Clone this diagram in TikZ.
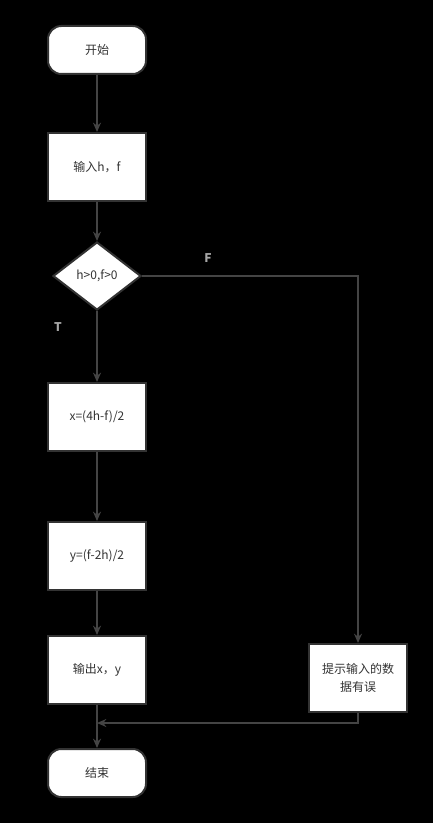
\documentclass[tikz,border=0pt]{standalone}
\usepackage{fontspec}
\newfontfamily\cjk{Noto Sans CJK SC}
\usepackage{xcolor}
\usetikzlibrary{arrows.meta,positioning,shapes.geometric}
\definecolor{linea}{HTML}{444444}
\definecolor{borde}{HTML}{333333}
\definecolor{texto}{HTML}{333333}

\begin{document}
\begin{tikzpicture}[x=0.75pt,y=-0.75pt,>={Stealth[length=7pt,width=6pt]},
  caja/.style={draw=borde,line width=1.5pt,fill=white,minimum width=73.5pt,minimum height=51pt,align=center,text=texto,font=\cjk\fontsize{9}{13}\selectfont},
  terminal/.style={caja,rounded corners=10pt,minimum height=36pt},
  decision/.style={caja,diamond,aspect=1.3,minimum width=66pt,minimum height=51pt,inner sep=0pt},
  flecha/.style={->,draw=linea,line width=1.2pt},
  etiqueta/.style={text=gray!70,font=\cjk\bfseries\fontsize{9}{11}\selectfont}]
\fill[black] (0,0) rectangle (433,823);
\useasboundingbox (0,0) rectangle (433,823);
\node[terminal] (inicio) at (97,50) {开始};
\node[caja] (entrada) at (97,167) {输入h，f};
\node[decision] (cond) at (97,276) {h>0,f>0};
\node[caja] (calcx) at (97,417) {x=(4h-f)/2};
\node[caja] (calcy) at (97,556) {y=(f-2h)/2};
\node[caja] (salida) at (97,670) {输出x，y};
\node[terminal] (fin) at (97,773) {结束};
\node[caja] (error) at (358,678) {提示输入的数\\据有误};
\coordinate (union) at (97,723);
\draw[flecha] (inicio)--(entrada);
\draw[flecha] (entrada)--(cond);
\draw[flecha] (cond)--(calcx);
\draw[flecha] (calcx)--(calcy);
\draw[flecha] (calcy)--(salida);
\draw[flecha] (salida)--(fin);
\draw[flecha] (cond.east) -| (error.north);
\draw[flecha] (error.south) |- (union);
\node[etiqueta] (falso) at (208,258) {F};
\node[etiqueta] (verdad) at (58,327) {T};
\end{tikzpicture}
\end{document}
